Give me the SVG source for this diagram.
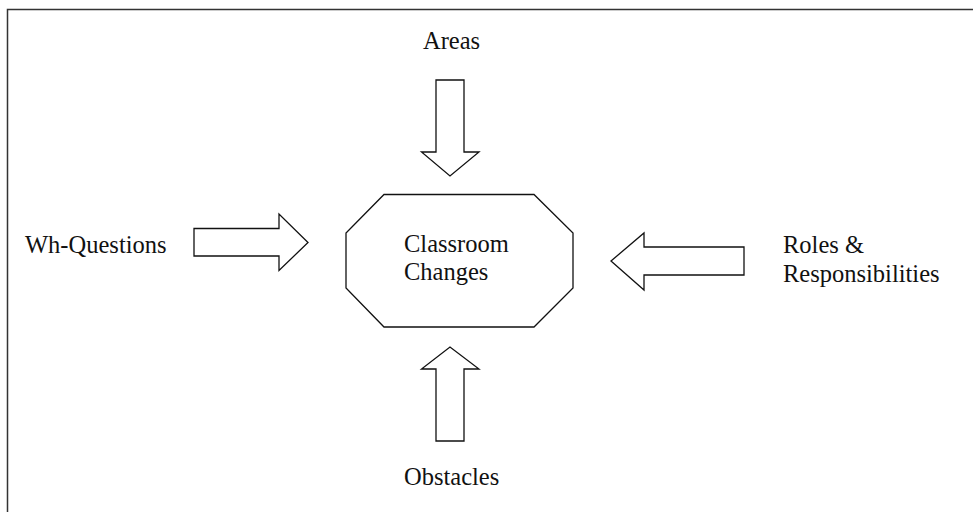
<svg xmlns="http://www.w3.org/2000/svg" width="973" height="512" viewBox="0 0 973 512">
<style>
.t{font-family:"Liberation Serif","Times New Roman",serif;font-size:24.5px;fill:#111}
.arr{fill:#fff;stroke:#111;stroke-width:1.3;stroke-linejoin:miter}
.oct{fill:#fff;stroke:#111;stroke-width:1.3}
</style>
<rect width="973" height="512" fill="#fff"/>
<path d="M7.5,512 V9.5 H973" fill="none" stroke="#333" stroke-width="1.5"/>
<g id="center">
<polygon class="oct" points="384,194.5 534,194.5 573,233 573,288 534,327 384,327 346,288 346,233"/>
<text class="t" x="404" y="252">Classroom</text>
<text class="t" x="404" y="280">Changes</text>
</g>
<g id="areas"><text class="t" x="423" y="49">Areas</text></g>
<g id="wh"><text class="t" x="25" y="253">Wh-Questions</text></g>
<g id="roles"><text class="t" x="783" y="253">Roles &amp;</text><text class="t" x="783" y="281.5">Responsibilities</text></g>
<g id="obstacles"><text class="t" x="404" y="485">Obstacles</text></g>
<g id="connectors">
<polygon class="arr" points="436,80 464,80 464,152 479,152 450,176 421.5,152 436,152"/>
<polygon class="arr" points="194,228.5 279,228.5 279,214 308,242.5 279,270.5 279,256 194,256"/>
<polygon class="arr" points="744,247 644,247 644,233 611,261 644,290 644,275 744,275"/>
<polygon class="arr" points="436,441 436,369 421.5,369 450,347 479,369 464,369 464,441"/>
</g>
</svg>
